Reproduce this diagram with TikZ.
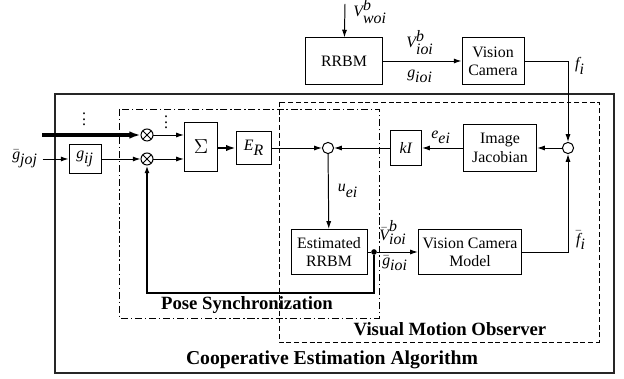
\documentclass[tikz,border=0pt]{standalone}
\usepackage{fontspec}
\setmainfont{Liberation Serif}
\usetikzlibrary{arrows.meta}

\newcommand{\vit}[1]{\textit{#1}}

\tikzset{
    block/.style={draw, line width=0.7pt, align=center, inner sep=1pt},
    sumdot/.style={circle, draw, line width=0.7pt, minimum size=0.28cm, inner sep=0pt},
    mult/.style={
        circle, draw, line width=0.7pt, minimum size=0.3cm, inner sep=0pt,
        path picture={
            \draw (path picture bounding box.north west) -- (path picture bounding box.south east)
                  (path picture bounding box.south west) -- (path picture bounding box.north east);
        }
    },
    branch/.style={circle, fill, minimum size=4pt, inner sep=0pt},
    vdotsmark/.style={inner sep=0pt},
    regionlabel/.style={font=\fontsize{13.3}{15}\selectfont\bfseries},
    signal/.style={line width=0.7pt, -{Latex[length=5.5pt, width=3.6pt]}},
}

\begin{document}
\begin{tikzpicture}[x=0.025cm, y=-0.025cm, font=\fontsize{11.3}{13}\selectfont]
        \useasboundingbox (0,0) rectangle (624,379);

        % regions
        \draw[line width=0.8pt, black!85] (55,94) rectangle (614,373);
        \draw[line width=0.7pt, dash pattern=on 5pt off 2pt on 1pt off 2pt] (119,109) rectangle (379,318);
        \draw[line width=0.7pt, dash pattern=on 3.5pt off 2pt] (279,102) rectangle (599,342);

        \node (pslabel) [regionlabel] at (247,305) {Pose Synchronization};
        \node (vmolabel) [regionlabel] at (450,329) {Visual Motion Observer};
        \node (celabel) [regionlabel, font=\fontsize{14}{15}\selectfont\bfseries] at (332,360) {Cooperative Estimation Algorithm};

        % blocks
        \node (rrbm) [
            block,
            minimum width=1.93cm,
            minimum height=1.15cm
        ] at (344,61) {RRBM};

        \node (cam) [
            block,
            minimum width=1.55cm,
            minimum height=1.15cm
        ] at (493,61) {Vision\\Camera};

        \node (jac) [
            block,
            minimum width=1.83cm,
            minimum height=1.15cm
        ] at (500,148) {Image\\Jacobian};

        \node (ki) [
            block,
            minimum width=0.78cm,
            minimum height=0.85cm
        ] at (406,148) {\vit{kI}};

        \node (er) [
            block,
            minimum width=0.88cm,
            minimum height=0.83cm
        ] at (254,148) {$\vit{E}_{\vit{R}}$};

        \node (sigma) [
            block,
            minimum width=0.83cm,
            minimum height=1.2cm
        ] at (201,147) {\fontsize{15}{15}\selectfont$\Sigma$};

        \node (gij) [
            block,
            minimum width=0.8cm,
            minimum height=0.73cm
        ] at (85,159) {$\vit{g}_{\vit{ij}}$};

        \node (est) [
            block,
            minimum width=1.9cm,
            minimum height=1.13cm
        ] at (329,252) {Estimated\\RRBM};

        \node (vcm) [
            block,
            minimum width=2.58cm,
            minimum height=1.13cm
        ] at (470,252) {Vision Camera\\Model};

        % junctions
        \node (sumr) [sumdot] at (568,148) {};
        \node (summ) [sumdot] at (328,148) {};
        \node (mul1) [mult] at (147,135) {};
        \node (mul2) [mult] at (147,159) {};
        \node (fbdot) [branch] at (374,252) {};
        \coordinate (vin) at (345,4);
        \coordinate (in0) at (42,135);

        % signal names
        \node (vwoi) at (370,12) {$\vit{V}^{\vit{b}}_{\vit{woi}}$};
        \node (vioi) at (420,43) {$\vit{V}^{\vit{b}}_{\vit{ioi}}$};
        \node (gioi) at (420,76) {$\vit{g}_{\vit{ioi}}$};
        \node (fi) at (580,66) {$\vit{f}_{\vit{i}}$};
        \node (fbar) at (581,240) {$\bar{\vit{f}}_{\vit{i}}$};
        \node (eei) at (441,137) {$\vit{e}_{\vit{ei}}$};
        \node (uei) at (348,191) {$\vit{u}_{\vit{ei}}$};
        \node (vbar) at (393,233) {$\bar{\vit{V}}^{\vit{b}}_{\vit{ioi}}$};
        \node (gbar) at (395,263) {$\bar{\vit{g}}_{\vit{ioi}}$};
        \node (gjoj) at (25,159) {$\bar{\vit{g}}_{\vit{joj}}$};
        \node (dots1) [vdotsmark] at (84,119) {\raisebox{0pt}[9.5pt][0pt]{$\vdots$}};
        \node (dots2) [vdotsmark] at (166,122) {\raisebox{0pt}[9.5pt][0pt]{$\vdots$}};

        % connections
        \draw[signal] (vin) -- (rrbm);
        \draw[signal] (rrbm) -- (cam);
        \draw[signal] (cam) -| (sumr);
        \draw[signal] (vcm) -| (sumr);
        \draw[signal] (sumr) -- (jac);
        \draw[signal] (jac) -- (ki);
        \draw[signal] (ki) -- (summ);
        \draw[signal] (er) -- (summ);
        \draw[signal] (summ) -- (est);
        \draw[line width=0.7pt] (est) -- (fbdot);
        \draw[signal] (fbdot) -- (vcm);
        \draw[signal, line width=1.3pt] (fbdot) -- ++(0,41) -| (mul2);
        \draw[line width=2.2pt, -{Latex[length=8pt, width=5.5pt]}] (in0) -- (mul1);
        \draw[signal] (gjoj) -- (gij);
        \draw[signal] (gij) -- (mul2);
        \draw[signal] (mul1) -- (mul1 -| sigma.west);
        \draw[signal] (mul2) -- (mul2 -| sigma.west);
        \draw[line width=1.4pt, -{Latex[length=7pt, width=4.5pt]}] (sigma.east |- er) -- (er);
    \end{tikzpicture}
\end{document}
